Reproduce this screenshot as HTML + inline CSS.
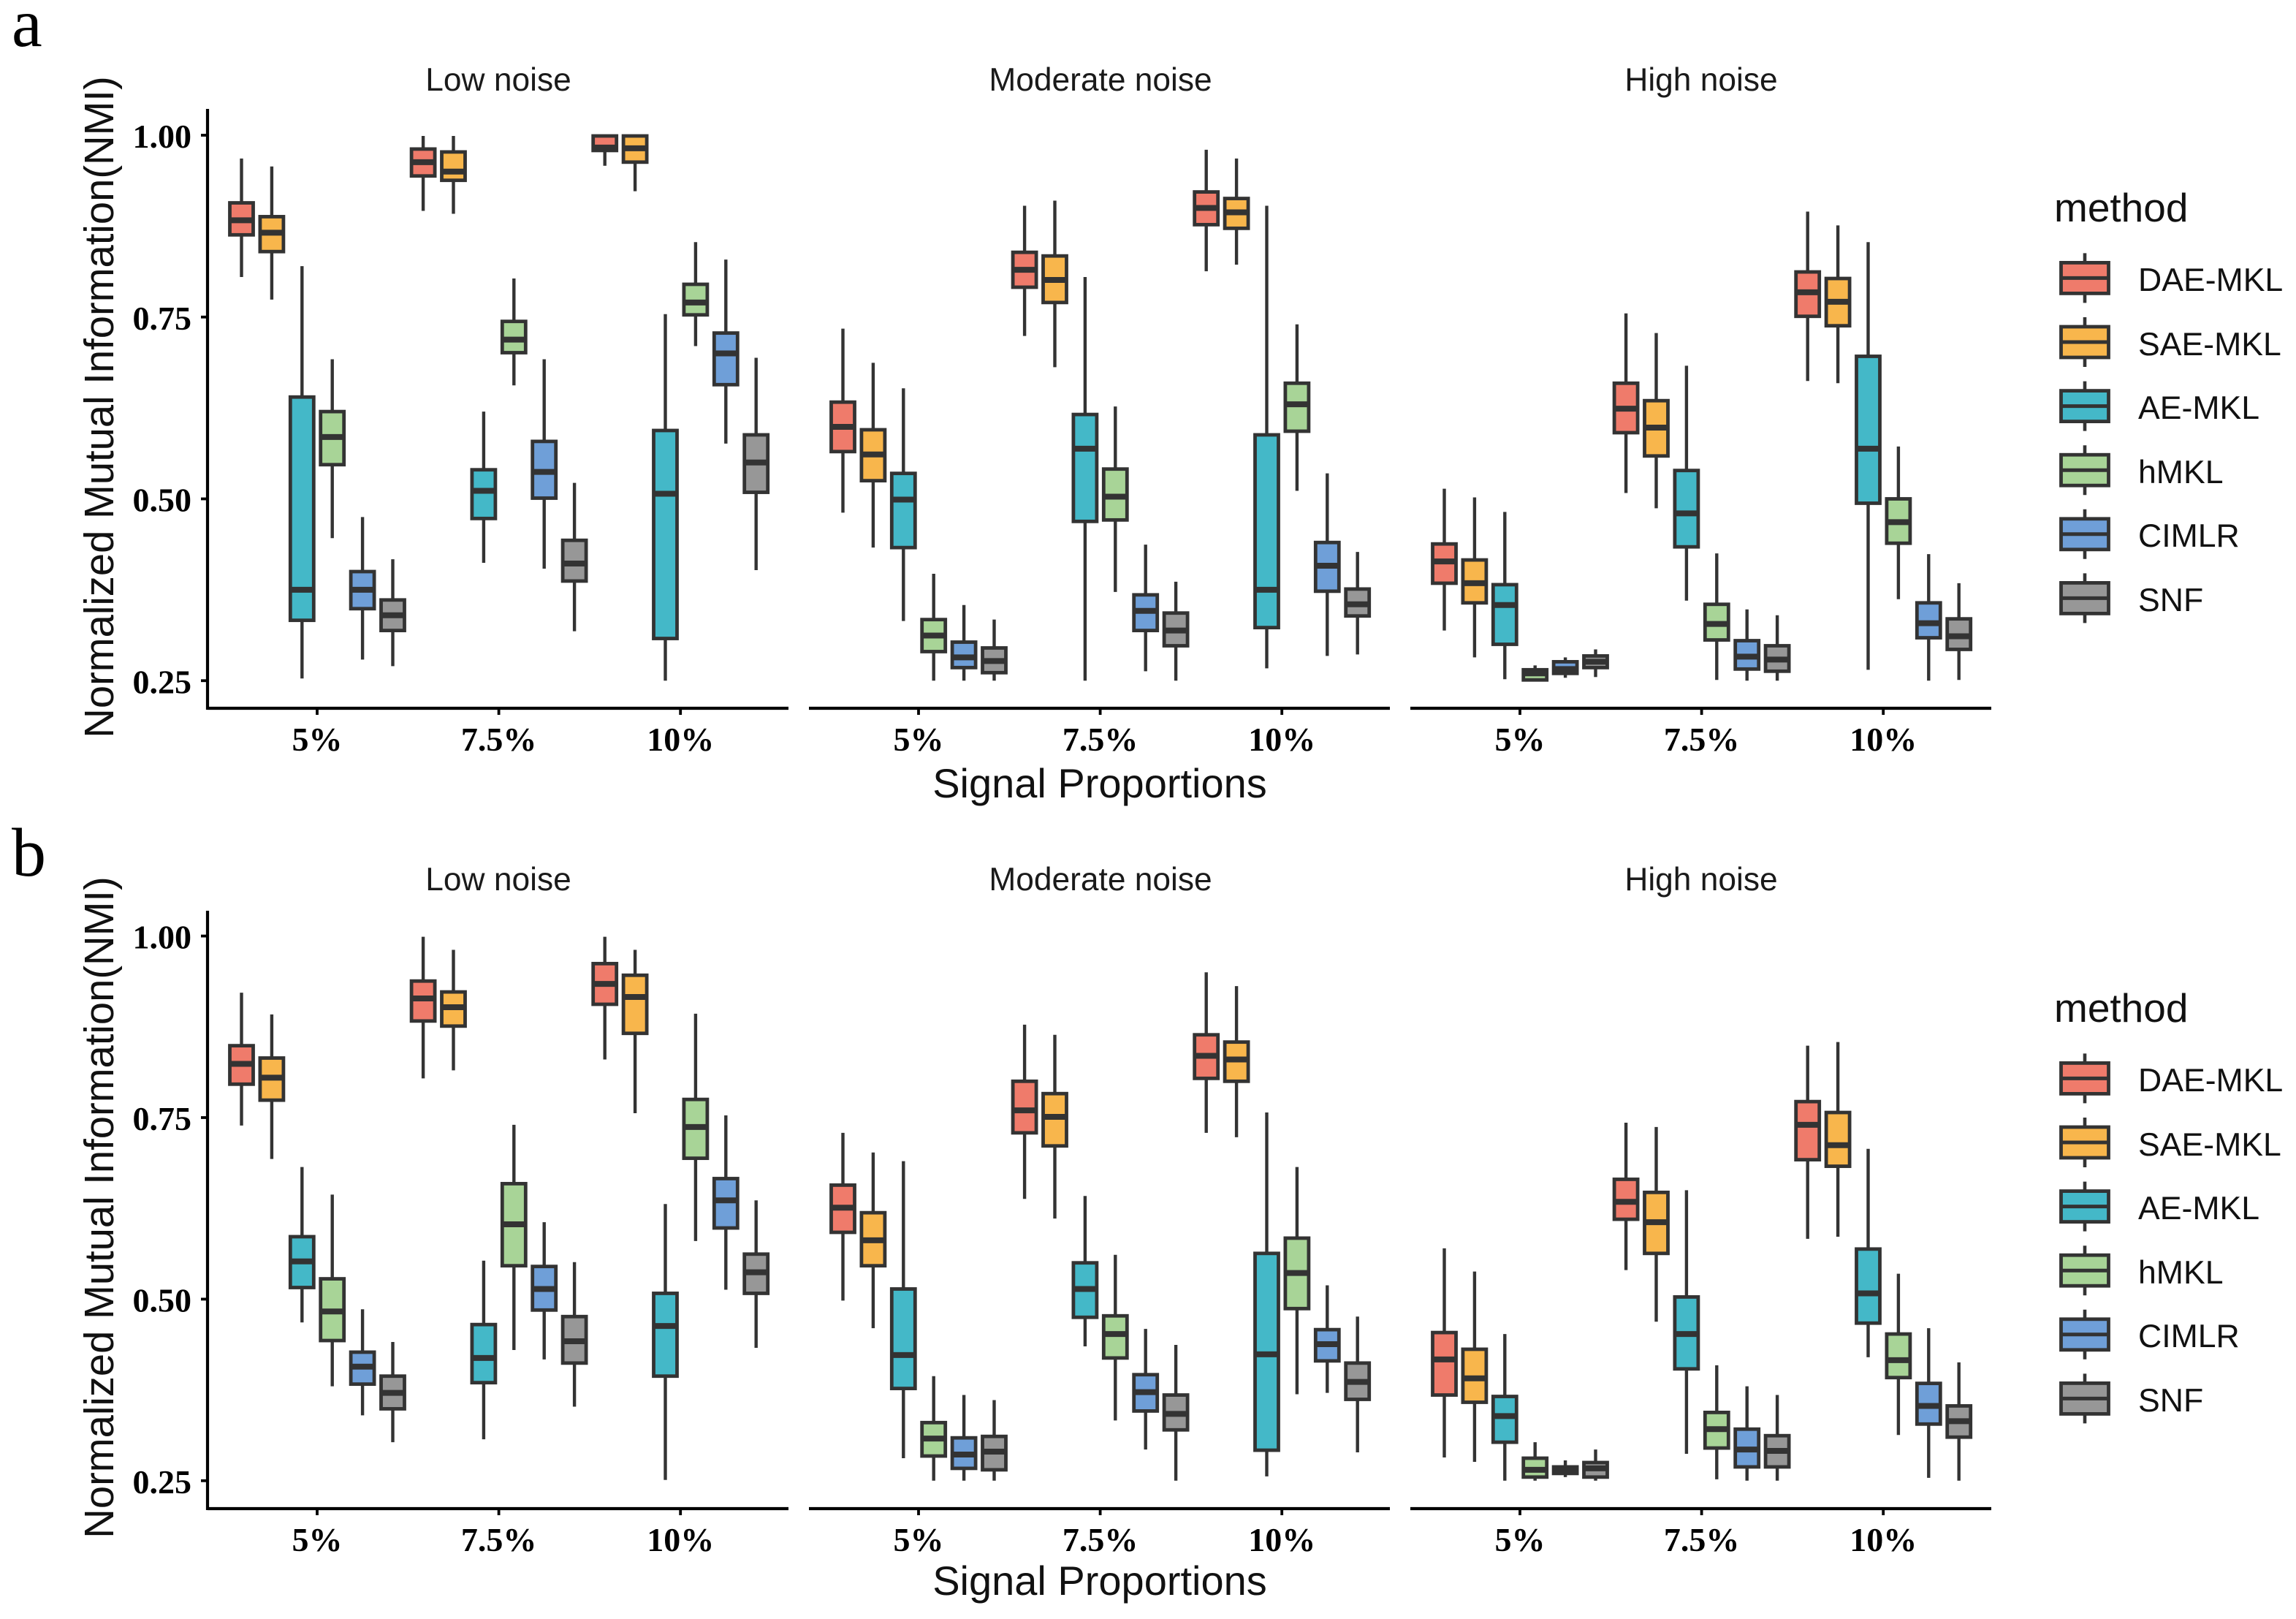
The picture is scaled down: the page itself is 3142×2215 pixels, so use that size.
<!DOCTYPE html>
<html lang="en">
<head>
<meta charset="utf-8">
<title>NMI box plots by signal proportion and noise level</title>
<style>
html,body{margin:0;padding:0;background:#fff;width:3142px;height:2215px;overflow:hidden}
svg{display:block}
.sans{font-family:"Liberation Sans",Arial,sans-serif;fill:#111}
.serif{font-family:"Liberation Serif","Times New Roman",serif;fill:#000}
.strip{font-size:44.3px;text-anchor:middle;fill:#1a1a1a}
.axt{font-size:55.7px;text-anchor:middle}
.leg{font-size:44.6px}
.tick{font-family:"Liberation Serif","Times New Roman",serif;font-weight:bold;fill:#000}
</style>
</head>
<body>
<svg id="chart" xmlns="http://www.w3.org/2000/svg" width="3142" height="2215" viewBox="0 0 3142 2215">
  <rect x="0" y="0" width="3142" height="2215" fill="#ffffff"/>

  <text class="serif" x="16" y="63" font-size="94">a</text>
  <text class="serif" x="16" y="1198" font-size="94">b</text>

  <text class="sans strip" x="682" y="124">Low noise</text>
  <text class="sans strip" x="1506" y="124">Moderate noise</text>
  <text class="sans strip" x="2328" y="124">High noise</text>
  <text class="sans strip" x="682" y="1218">Low noise</text>
  <text class="sans strip" x="1506" y="1218">Moderate noise</text>
  <text class="sans strip" x="2328" y="1218">High noise</text>

  <text class="sans axt" style="font-size:56.2px" transform="translate(155,557) rotate(-90)">Normalized Mutual Information(NMI)</text>
  <text class="sans axt" style="font-size:56.2px" transform="translate(155,1652) rotate(-90)">Normalized Mutual Information(NMI)</text>
  <text class="sans axt" style="font-size:56px" x="1505" y="1091">Signal Proportions</text>
  <text class="sans axt" style="font-size:56px" x="1505" y="2182">Signal Proportions</text>

  <g>
    <text class="sans" x="2811" y="303" font-size="55">method</text>
    <text class="sans leg" x="2926" y="398">DAE-MKL</text>
    <text class="sans leg" x="2926" y="486">SAE-MKL</text>
    <text class="sans leg" x="2926" y="573">AE-MKL</text>
    <text class="sans leg" x="2926" y="661">hMKL</text>
    <text class="sans leg" x="2926" y="748">CIMLR</text>
    <text class="sans leg" x="2926" y="836">SNF</text>
  </g>
  <g>
    <text class="sans" x="2811" y="1398" font-size="55">method</text>
    <text class="sans leg" x="2926" y="1493">DAE-MKL</text>
    <text class="sans leg" x="2926" y="1581">SAE-MKL</text>
    <text class="sans leg" x="2926" y="1668">AE-MKL</text>
    <text class="sans leg" x="2926" y="1756">hMKL</text>
    <text class="sans leg" x="2926" y="1843">CIMLR</text>
    <text class="sans leg" x="2926" y="1931">SNF</text>
  </g>
</svg>
<script>
const categories = ['5%', '7.5%', '10%'];
const methods = ['DAE-MKL', 'SAE-MKL', 'AE-MKL', 'hMKL', 'CIMLR', 'SNF'];
const noiseLevels = ['low-noise', 'moderate-noise', 'high-noise'];
const yTicks = [1.00, 0.75, 0.50, 0.25];
const yTickLabels = ['1.00', '0.75', '0.50', '0.25'];

// Each box: [whisker high, Q3, median, Q1, whisker low]; grouped by signal proportion, then method.
const panelALow = [
  [[.968,.907,.883,.863,.805],[.957,.888,.866,.840,.774],[.820,.640,.375,.333,.253],[.692,.620,.585,.547,.446],[.475,.400,.375,.349,.279],[.417,.361,.340,.319,.270]],
  [[.999,.981,.963,.944,.896],[.999,.977,.950,.938,.892],[.620,.540,.511,.473,.412],[.803,.744,.719,.701,.656],[.692,.579,.537,.501,.404],[.522,.443,.411,.387,.318]],
  [[1.00,.999,.983,.979,.958],[1.00,.999,.982,.963,.923],[.754,.594,.507,.308,.250],[.853,.795,.770,.753,.710],[.829,.728,.700,.657,.576],[.694,.588,.550,.509,.402]]
];
const panelAModerate = [
  [[.734,.633,.599,.565,.481],[.687,.595,.561,.525,.433],[.652,.535,.499,.433,.332],[.397,.334,.312,.290,.250],[.354,.303,.282,.268,.250],[.334,.295,.277,.261,.250]],
  [[.903,.839,.815,.791,.724],[.910,.834,.801,.770,.681],[.805,.616,.569,.469,.250],[.627,.541,.503,.471,.372],[.437,.368,.346,.319,.263],[.386,.343,.319,.298,.250]],
  [[.980,.922,.900,.877,.813],[.968,.913,.894,.872,.822],[.903,.588,.375,.323,.267],[.740,.659,.630,.593,.511],[.535,.440,.408,.373,.284],[.427,.376,.355,.339,.286]]
];
const panelAHigh = [
  [[.514,.438,.414,.384,.319],[.502,.416,.384,.357,.282],[.482,.382,.354,.300,.252],[.271,.265,.260,.251,.251],[.282,.276,.266,.260,.254],[.293,.284,.276,.268,.255]],
  [[.755,.659,.624,.591,.508],[.728,.635,.598,.559,.487],[.683,.539,.480,.434,.360],[.425,.355,.328,.306,.251],[.348,.305,.283,.266,.250],[.340,.298,.279,.263,.250]],
  [[.895,.812,.784,.751,.662],[.876,.803,.771,.738,.659],[.853,.696,.569,.494,.265],[.572,.500,.468,.439,.362],[.424,.357,.329,.309,.250],[.384,.335,.311,.293,.251]]
];
const panelBLow = [
  [[.922,.849,.824,.796,.739],[.892,.832,.805,.774,.693],[.682,.586,.552,.516,.468],[.644,.528,.483,.443,.380],[.486,.427,.407,.383,.340],[.441,.394,.371,.349,.303]],
  [[.999,.938,.914,.883,.804],[.981,.923,.902,.876,.815],[.553,.465,.419,.385,.307],[.740,.659,.603,.546,.430],[.606,.545,.514,.485,.417],[.551,.476,.442,.412,.352]],
  [[.999,.962,.934,.906,.830],[.981,.946,.916,.866,.756],[.631,.508,.463,.394,.251],[.893,.775,.737,.694,.580],[.753,.666,.636,.598,.513],[.636,.562,.537,.508,.433]]
];
const panelBModerate = [
  [[.729,.657,.626,.592,.498],[.702,.619,.581,.546,.460],[.690,.514,.423,.377,.281],[.394,.330,.308,.284,.250],[.368,.309,.286,.267,.250],[.361,.311,.290,.265,.250]],
  [[.878,.800,.760,.729,.638],[.864,.783,.751,.711,.611],[.642,.550,.514,.475,.435],[.561,.477,.452,.419,.333],[.459,.396,.372,.346,.293],[.437,.368,.342,.320,.250]],
  [[.950,.864,.835,.804,.729],[.931,.854,.830,.800,.723],[.757,.563,.424,.292,.256],[.682,.584,.536,.487,.369],[.519,.458,.438,.415,.371],[.476,.412,.386,.362,.289]]
];
const panelBHigh = [
  [[.570,.454,.417,.368,.282],[.538,.431,.391,.358,.276],[.452,.366,.339,.303,.250],[.303,.281,.265,.255,.250],[.278,.269,.264,.260,.255],[.293,.275,.267,.255,.250]],
  [[.743,.665,.634,.610,.540],[.737,.647,.606,.563,.469],[.650,.503,.452,.404,.287],[.409,.344,.321,.295,.252],[.380,.321,.293,.269,.250],[.368,.312,.291,.269,.250]],
  [[.849,.772,.740,.692,.583],[.854,.757,.712,.683,.586],[.707,.569,.508,.467,.420],[.535,.452,.416,.392,.313],[.460,.384,.353,.328,.254],[.413,.353,.332,.310,.250]]
];
const rowA = [panelALow, panelAModerate, panelAHigh];
const rowB = [panelBLow, panelBModerate, panelBHigh];

const fills = ['#EF7B6B', '#F8B64C', '#44B8C8', '#A8D497', '#6F9FD8', '#979797'];
const INK = '#333333';
const SVGNS = 'http://www.w3.org/2000/svg';
const svg = document.getElementById('chart');

function mk(parent, tag, attrs, text) {
  const el = document.createElementNS(SVGNS, tag);
  for (const k in attrs) el.setAttribute(k, attrs[k]);
  if (text !== undefined) el.textContent = text;
  parent.appendChild(el);
  return el;
}

const PANEL_LEFT = [284, 1107, 1930];
const PANEL_W = 795;
const CAT_STEP = 248.6;
const DODGE = 41.4;
const BOX_W = 32;

function xCat(panel, cat) { return PANEL_LEFT[panel] + 150 + cat * CAT_STEP; }
function xBox(panel, cat, m) { return xCat(panel, cat) + (m - 2.5) * DODGE; }

function drawRow(rowName, rowData, yTop, pxPerUnit, axisTop, axisBottom) {
  const y = v => yTop + (1 - v) * pxPerUnit;
  const row = mk(svg, 'g', {});
  
  

  // y axis
  const yAxis = mk(row, 'line', {x1: PANEL_LEFT[0], x2: PANEL_LEFT[0], y1: axisTop, y2: axisBottom + 2, stroke: '#000', 'stroke-width': 4.2});
  
  
  yTicks.forEach((t, i) => {
    const tk = mk(row, 'line', {x1: PANEL_LEFT[0] - 9, x2: PANEL_LEFT[0], y1: y(t), y2: y(t), stroke: '#000', 'stroke-width': 3.8});
    
    
    const lb = mk(row, 'text', {class: 'tick', x: 262, y: y(t) + 17, 'font-size': 46, 'text-anchor': 'end'}, yTickLabels[i]);
    
    
  });

  rowData.forEach((panelData, p) => {
    const panel = mk(row, 'g', {});
    
    

    const xAxis = mk(panel, 'line', {x1: PANEL_LEFT[p], x2: PANEL_LEFT[p] + PANEL_W, y1: axisBottom, y2: axisBottom, stroke: '#000', 'stroke-width': 4.2});
    
    

    categories.forEach((c, ci) => {
      const cx = xCat(p, ci);
      const tk = mk(panel, 'line', {x1: cx, x2: cx, y1: axisBottom, y2: axisBottom + 9, stroke: '#000', 'stroke-width': 3.8});
      
      
      const lb = mk(panel, 'text', {class: 'tick', x: cx, y: axisBottom + 58, 'font-size': 46, 'text-anchor': 'middle'}, c);
      
      

      methods.forEach((m, mi) => {
        const d = panelData[ci][mi];
        const bx = xBox(p, ci, mi);
        const g = mk(panel, 'g', {});
        
        
        mk(g, 'line', {x1: bx, x2: bx, y1: y(d[0]), y2: y(d[4]), stroke: INK, 'stroke-width': 4.4});
        mk(g, 'rect', {x: bx - BOX_W / 2, y: y(d[1]), width: BOX_W, height: y(d[3]) - y(d[1]), fill: fills[mi], stroke: INK, 'stroke-width': 4.8});
        mk(g, 'line', {x1: bx - BOX_W / 2, x2: bx + BOX_W / 2, y1: y(d[2]), y2: y(d[2]), stroke: INK, 'stroke-width': 8});
      });
    });
  });
}

function drawLegendKeys(rowName, offsetY) {
  const keyX = 2853, keyW = 65, keyH = 42, firstY = 380.4, stepY = 87.6;
  methods.forEach((m, i) => {
    const cy = firstY + i * stepY + offsetY;
    const g = mk(svg, 'g', {});
    
    
    mk(g, 'line', {x1: keyX, x2: keyX, y1: cy - 34, y2: cy + 34, stroke: INK, 'stroke-width': 4.6});
    mk(g, 'rect', {x: keyX - keyW / 2, y: cy - keyH / 2, width: keyW, height: keyH, fill: fills[i], stroke: INK, 'stroke-width': 4.8});
    mk(g, 'line', {x1: keyX - keyW / 2, x2: keyX + keyW / 2, y1: cy, y2: cy, stroke: INK, 'stroke-width': 5});
  });
}

drawRow('a', rowA, 185, 995, 149, 969);
drawRow('b', rowB, 1280.6, 993.6, 1246, 2064);
drawLegendKeys('a', 0);
drawLegendKeys('b', 1095);
</script>
</body>
</html>
